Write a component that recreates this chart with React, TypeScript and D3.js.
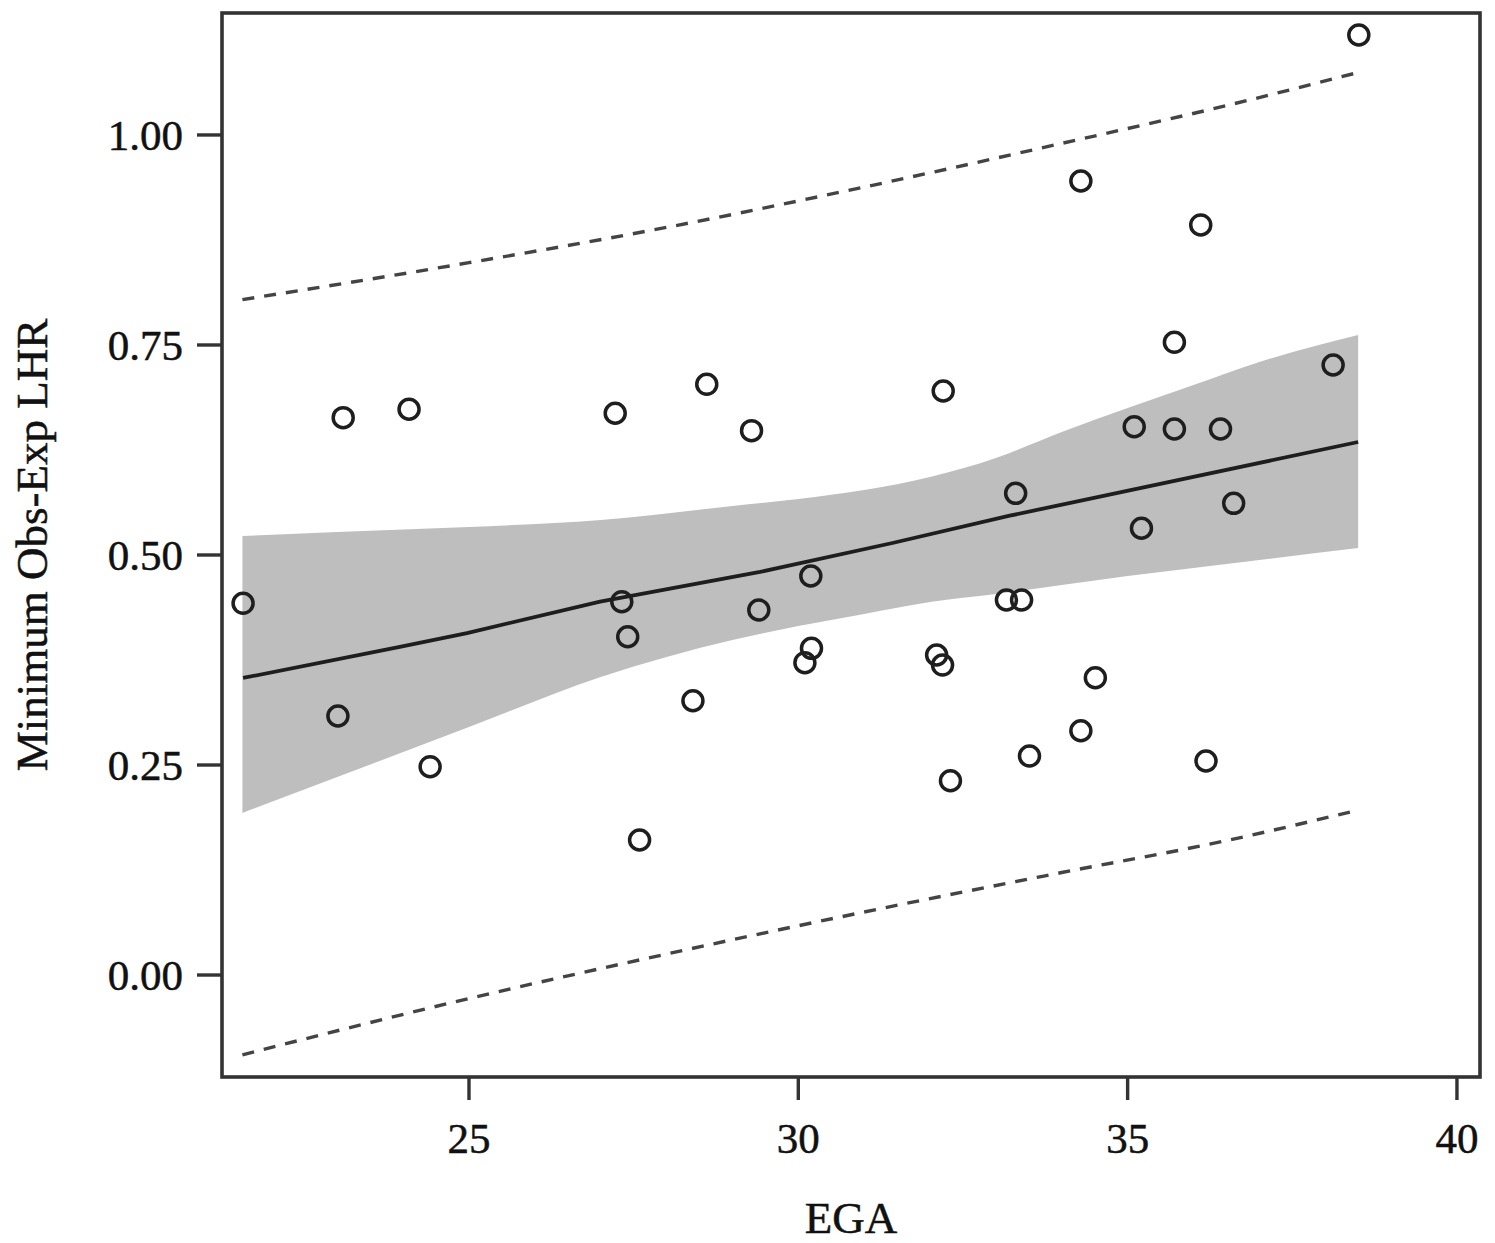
import React from "react";
import * as d3 from "d3";

// EGA (x) and Minimum Obs-Exp LHR (y) observations
const pointEGA = [
  21.57, 23.09, 24.09, 23.01, 24.41, 27.22, 28.61, 29.29, 27.32, 27.41, 28.4, 27.59,
  29.4, 30.19, 30.2, 30.1, 32.2, 32.1, 32.19, 32.31, 33.3, 33.16, 33.39, 33.51,
  34.29, 34.29, 34.51, 35.1, 35.71, 36.41, 35.21, 35.71, 36.11, 36.19, 36.61, 38.12, 38.51,
];
const pointLHR = [
  0.4425, 0.6635, 0.6735, 0.3083, 0.248, 0.6687, 0.7032, 0.648, 0.4444, 0.4027, 0.3265, 0.1607,
  0.4345, 0.475, 0.3889, 0.3718, 0.6952, 0.381, 0.369, 0.2313, 0.5734, 0.4464, 0.4464, 0.2607,
  0.9452, 0.2908, 0.3539, 0.6527, 0.65, 0.65, 0.5318, 0.7532, 0.8929, 0.2548, 0.5615, 0.7262, 1.119,
];

// fitted line
const fitEGA = [21.57, 23.95, 24.97, 26.99, 29.42, 31.43, 33.21, 38.5];
const fitLHR = [0.3536, 0.3905, 0.4071, 0.4445, 0.4798, 0.5143, 0.5468, 0.6345];

// confidence band
const bandEGA = [21.56, 23, 25, 27, 29, 30, 31, 32, 33, 34, 35, 36, 37, 38.5];
const bandUpper = [0.5226, 0.5274, 0.5333, 0.5417, 0.5583, 0.5667, 0.5774, 0.5929, 0.6155, 0.6464, 0.675, 0.7024, 0.7298, 0.7619];
const bandLower = [0.1929, 0.2357, 0.2952, 0.3548, 0.3988, 0.4155, 0.4298, 0.444, 0.4536, 0.4643, 0.475, 0.4845, 0.494, 0.5083];

// prediction interval (dashed)
const piEGA = [21.56, 25, 28, 31, 34, 36.5, 38.48];
const piUpper = [0.804, 0.848, 0.89, 0.938, 0.99, 1.035, 1.074];
const piLower = [-0.095, -0.028, 0.025, 0.075, 0.122, 0.16, 0.196];

const xTicks = [25, 30, 35, 40];
const yTicks = [0, 0.25, 0.5, 0.75, 1.0];
const xTitle = "EGA";
const yTitle = "Minimum Obs-Exp LHR";

const W = 1495;
const H = 1243;
const left = 222, right = 1480, top = 13, bottom = 1077;
const FONT = "'Liberation Serif', 'Times New Roman', serif";

export default function App() {
  const x = d3.scaleLinear().domain([21.25, 40.35]).range([left, right]);
  const y = d3.scaleLinear().domain([-0.1214, 1.1452]).range([bottom, top]);

  const band = bandEGA.map((e, i) => ({ e, lo: bandLower[i], hi: bandUpper[i] }));
  const areaGen = d3
    .area<{ e: number; lo: number; hi: number }>()
    .x((d) => x(d.e))
    .y0((d) => y(d.lo))
    .y1((d) => y(d.hi))
    .curve(d3.curveMonotoneX);

  const smoothLine = d3
    .line<[number, number]>()
    .x((d) => x(d[0]))
    .y((d) => y(d[1]))
    .curve(d3.curveMonotoneX);
  const straightLine = d3
    .line<[number, number]>()
    .x((d) => x(d[0]))
    .y((d) => y(d[1]));

  const fitPts = fitEGA.map((e, i) => [e, fitLHR[i]] as [number, number]);
  const piUpPts = piEGA.map((e, i) => [e, piUpper[i]] as [number, number]);
  const piLoPts = piEGA.map((e, i) => [e, piLower[i]] as [number, number]);
  const fmt = d3.format(".2f");

  const textProps = {
    fontFamily: FONT,
    fill: "#111",
    stroke: "#111",
    strokeWidth: 0.5,
  };

  return (
    <svg
      width={W}
      height={H}
      style={{ position: "absolute", left: 0, top: 0, background: "#fff" }}
    >
      <rect x={0} y={0} width={W} height={H} fill="#fff" />
      <path d={areaGen(band) || ""} fill="#bebebe" stroke="none" />
      <path d={straightLine(fitPts) || ""} fill="none" stroke="#1e1e1e" strokeWidth={3.8} strokeLinejoin="round" />
      <path d={smoothLine(piUpPts) || ""} fill="none" stroke="#444" strokeWidth={3.4} strokeDasharray="12 10" />
      <path d={smoothLine(piLoPts) || ""} fill="none" stroke="#444" strokeWidth={3.4} strokeDasharray="12 10" />
      {pointEGA.map((e, i) => (
        <circle key={i} cx={x(e)} cy={y(pointLHR[i])} r={10} fill="none" stroke="#1e1e1e" strokeWidth={3.5} />
      ))}
      {/* frame */}
      <rect x={left} y={top} width={right - left} height={bottom - top} fill="none" stroke="#333" strokeWidth={3.6} />
      {/* x ticks */}
      {xTicks.map((t) => (
        <g key={t}>
          <line x1={x(t)} x2={x(t)} y1={bottom} y2={bottom + 23} stroke="#333" strokeWidth={3.4} />
          <text x={x(t)} y={1153} textAnchor="middle" fontSize={43} {...textProps}>
            {t}
          </text>
        </g>
      ))}
      {/* y ticks */}
      {yTicks.map((t) => (
        <g key={t}>
          <line x1={left - 25} x2={left} y1={y(t)} y2={y(t)} stroke="#333" strokeWidth={3.4} />
          <text x={183} y={y(t)} dy="0.34em" textAnchor="end" fontSize={43} {...textProps}>
            {fmt(t)}
          </text>
        </g>
      ))}
      <text x={(left + right) / 2} y={1233} textAnchor="middle" fontSize={45} {...textProps}>
        {xTitle}
      </text>
      <text
        transform={`translate(47, ${(top + bottom) / 2}) rotate(-90)`}
        textAnchor="middle"
        fontSize={45}
        {...textProps}
      >
        {yTitle}
      </text>
    </svg>
  );
}
